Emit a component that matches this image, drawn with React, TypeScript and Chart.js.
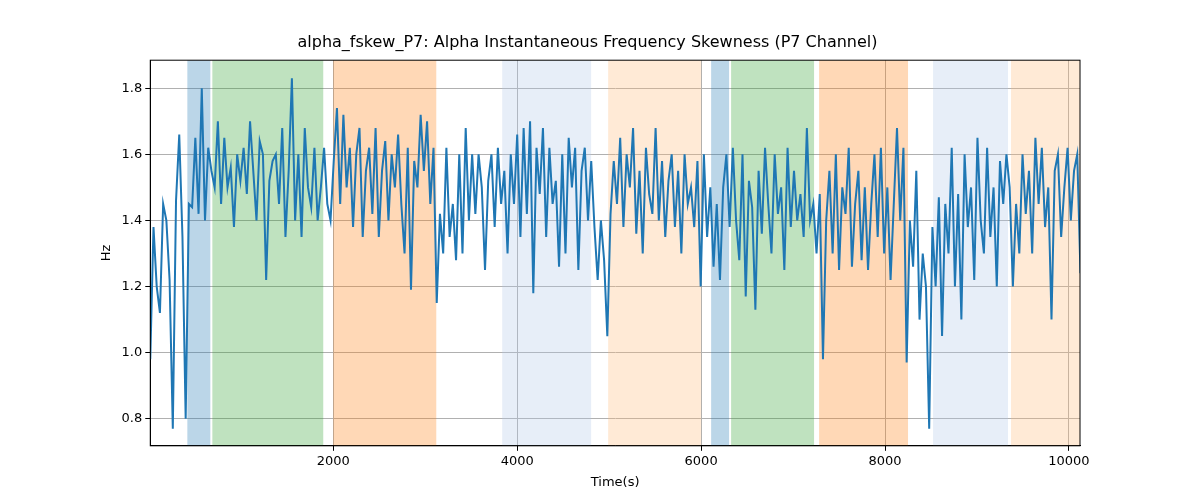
import React, { useEffect, useRef } from "react";
import { Chart, registerables } from "chart.js";
Chart.register(...registerables);

const startTime = 10;
const stepTime = 35;
const values: number[] = [
  0.98,1.38,1.2,1.12,1.45,1.4,1.22,0.77,1.46,1.66,1.35,0.8,
  1.45,1.44,1.65,1.42,1.8,1.4,1.62,1.55,
  1.5,1.7,1.45,1.65,1.5,1.56,1.38,1.6,1.52,1.62,1.48,1.7,1.55,1.4,1.64,1.6,1.22,1.52,1.58,1.6,1.45,1.68,1.35,1.55,1.83,1.4,1.6,1.35,1.68,1.5,1.44,1.62,1.4,1.5,
  1.62,1.45,1.4,
  1.58,1.74,1.45,1.72,1.5,1.62,1.38,1.6,1.68,1.35,1.55,1.62,1.42,1.68,1.35,1.55,1.64,1.4,1.6,1.5,1.66,1.45,1.3,1.62,1.19,1.58,1.5,1.72,1.55,1.7,1.45,1.62,
  1.15,1.42,1.3,1.62,1.35,1.45,1.28,1.6,1.3,1.68,1.4,1.6,1.42,1.6,1.5,1.25,1.52,1.6,1.38,1.62,1.45,
  1.55,1.3,1.6,1.45,1.66,1.35,1.68,1.42,1.7,1.18,1.62,1.48,1.68,1.35,1.62,1.45,1.52,1.26,1.6,1.3,1.65,1.5,1.62,1.25,1.55,1.62,1.4,1.58,
  1.38,1.22,1.4,1.28,1.05,
  1.42,1.58,1.45,1.65,1.38,1.6,1.5,1.68,1.36,1.55,1.3,1.62,1.48,1.42,1.68,1.4,1.58,1.35,1.52,1.6,1.38,1.55,1.3,1.6,1.45,1.5,1.38,1.58,
  1.2,1.6,1.35,1.5,1.26,1.45,1.22,1.5,1.6,1.38,
  1.62,1.4,1.28,1.6,1.17,1.52,1.44,1.13,1.55,1.36,1.62,1.45,1.3,1.6,1.42,1.5,1.25,1.62,1.38,1.55,1.4,1.48,1.35,1.68,1.4,1.45,
  1.3,1.48,0.98,1.4,1.55,1.3,1.6,1.25,1.5,1.42,1.62,1.26,1.45,1.55,1.28,1.5,1.25,1.45,1.6,1.35,1.62,1.3,1.5,1.22,1.45,1.68,1.4,1.62,
  0.97,1.4,1.26,1.55,1.1,1.3,1.2,0.77,
  1.38,1.2,1.47,1.05,1.45,1.3,1.62,1.2,1.48,1.1,1.6,1.38,1.5,1.22,1.65,1.4,1.3,1.62,1.35,1.5,1.2,1.58,1.45,1.6,
  1.5,1.2,1.45,1.3,1.6,1.42,1.55,1.3,1.65,1.45,1.62,1.38,1.5,1.1,1.55,1.6,1.35,1.5,1.62,1.4,1.55,1.6,1.24,
];

const bandStarts = [413, 685, 2000, 3837, 4989, 6109, 6326, 7283, 8522, 9370];
const bandEnds = [663, 1891, 3120, 4804, 6000, 6304, 7228, 8250, 9337, 10120];
const bandColors = [
  "rgba(31,119,180,0.3)", "rgba(44,160,44,0.3)", "rgba(255,127,14,0.3)",
  "rgba(174,199,232,0.3)", "rgba(255,187,120,0.3)",
  "rgba(31,119,180,0.3)", "rgba(44,160,44,0.3)", "rgba(255,127,14,0.3)",
  "rgba(174,199,232,0.3)", "rgba(255,187,120,0.3)",
];
const xTicks = [2000, 4000, 6000, 8000, 10000];
const yTicks = [0.8, 1.0, 1.2, 1.4, 1.6, 1.8];

const bandPlugin = {
  id: "bands",
  beforeDatasetsDraw(chart: any) {
    const { ctx, chartArea, scales } = chart;
    ctx.save();
    bandStarts.forEach((s, i) => {
      const x0 = scales.x.getPixelForValue(s);
      const x1 = scales.x.getPixelForValue(bandEnds[i]);
      ctx.fillStyle = bandColors[i];
      ctx.fillRect(x0, chartArea.top, x1 - x0, chartArea.bottom - chartArea.top);
    });
    ctx.restore();
  },
  afterDraw(chart: any) {
    const { ctx, chartArea: a } = chart;
    ctx.save();
    ctx.strokeStyle = "#000";
    ctx.lineWidth = 1;
    ctx.strokeRect(a.left, a.top, a.right - a.left, a.bottom - a.top);
    ctx.restore();
  },
};

export default function App() {
  const ref = useRef<HTMLCanvasElement>(null);
  useEffect(() => {
    document.body.style.margin = "0";
    const data = values.map((v, i) => ({ x: startTime + stepTime * i, y: v }));
    const font = { family: "DejaVu Sans", size: 13 };
    const chart = new Chart(ref.current!, {
      type: "line",
      data: { datasets: [{ data, borderColor: "#1f77b4", borderWidth: 2, pointRadius: 0, tension: 0 }] },
      plugins: [bandPlugin],
      options: {
        animation: false,
        responsive: false,
        layout: { padding: { left: 95, right: 120, top: 33, bottom: 8 } },
        plugins: {
          legend: { display: false },
          tooltip: { enabled: false },
          title: {
            display: true,
            text: "alpha_fskew_P7: Alpha Instantaneous Frequency Skewness (P7 Channel)",
            color: "#000",
            font: { family: "DejaVu Sans", size: 16, weight: "normal" },
            padding: { top: 0, bottom: 8 },
          },
        },
        scales: {
          x: {
            type: "linear", min: 10, max: 10120,
            afterBuildTicks: (ax: any) => { ax.ticks = xTicks.map((v) => ({ value: v })); },
            ticks: { color: "#000", font, maxRotation: 0, callback: (v: any) => String(v) },
            grid: { color: "#b0b0b0", tickColor: "#000", tickLength: 5 },
            border: { color: "#000" },
            title: { display: true, text: "Time(s)", color: "#000", font, padding: 2 },
          },
          y: {
            min: 0.718, max: 1.885,
            afterBuildTicks: (ax: any) => { ax.ticks = yTicks.map((v) => ({ value: v })); },
            ticks: { color: "#000", font, callback: (v: any) => Number(v).toFixed(1) },
            grid: { color: "#b0b0b0", tickColor: "#000", tickLength: 5 },
            border: { color: "#000" },
            title: { display: true, text: "Hz", color: "#000", font, padding: 4 },
          },
        },
      } as any,
    });
    return () => chart.destroy();
  }, []);
  return <canvas ref={ref} width={1200} height={500} />;
}
